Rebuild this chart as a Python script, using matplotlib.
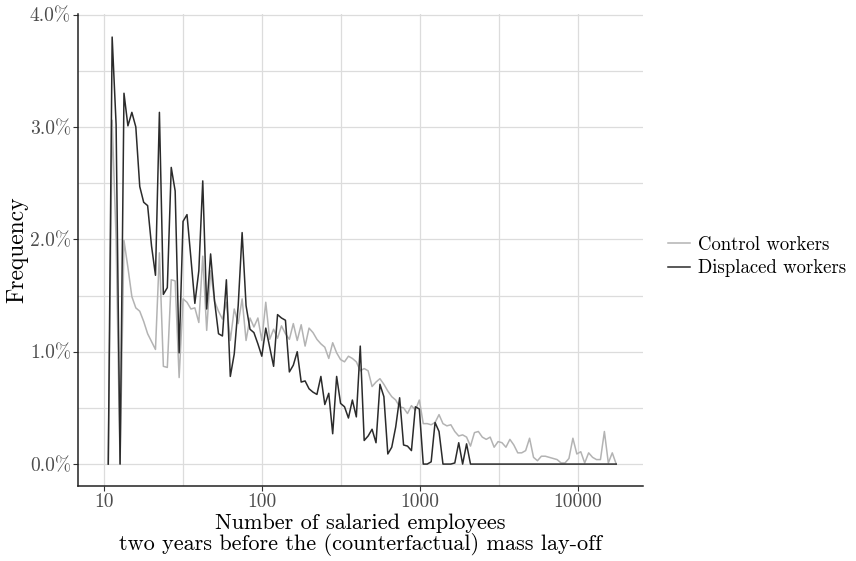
import matplotlib
matplotlib.use('Agg')
import matplotlib.pyplot as plt
from matplotlib.ticker import FixedLocator, FuncFormatter, NullFormatter

plt.rcParams['font.family'] = 'cmr10'
plt.rcParams['axes.formatter.use_mathtext'] = True

# firm size bins (number of salaried employees, log-spaced bin centres)
firm_size = [
    10.65, 11.27, 11.94, 12.65, 13.39, 14.18, 15.02, 15.91, 16.85, 17.84,
    18.90, 20.01, 21.19, 22.44, 23.77, 25.18, 26.66, 28.23, 29.91, 31.67,
    33.54, 35.52, 37.61, 39.85, 42.20, 44.69, 47.32, 50.12, 53.09, 56.22,
    59.54, 63.05, 66.77, 70.73, 74.90, 79.32, 84.00, 88.95, 94.24, 99.79,
    105.7, 111.9, 118.5, 125.5, 132.9, 140.8, 149.1, 157.9, 167.2, 177.1,
    187.5, 198.6, 210.4, 222.8, 236.0, 249.9, 264.7, 280.3, 296.9, 314.4,
    333.0, 352.6, 373.4, 395.6, 418.9, 443.6, 469.8, 497.5, 527.0, 558.1,
    591.0, 625.9, 662.8, 702.1, 743.5, 787.4, 833.8, 883.1, 935.4, 990.6,
    1049, 1111, 1177, 1246, 1320, 1398, 1480, 1568, 1661, 1759,
    1862, 1972, 2088, 2212, 2342, 2480, 2627, 2782, 2947, 3121,
    3305, 3500, 3707, 3926, 4158, 4404, 4664, 4939, 5231, 5540,
    5867, 6213, 6579, 6969, 7380, 7816, 8277, 8766, 9285, 9833,
    10414, 11028, 11679, 12370, 13100, 13873, 14692, 15559, 16482, 17455,
]

# share of workers (%)
control = [
    0.0, 3.06, 2.00, 0.0, 1.99, 1.75, 1.49, 1.39, 1.36, 1.27,
    1.16, 1.09, 1.02, 1.88, 0.87, 0.86, 1.64, 1.63, 0.77, 1.47,
    1.44, 1.38, 1.39, 1.26, 1.85, 1.19, 1.72, 1.45, 1.36, 1.29,
    1.44, 1.10, 1.38, 1.25, 1.47, 1.10, 1.30, 1.22, 1.30, 1.10,
    1.44, 1.11, 1.20, 1.12, 1.23, 1.16, 1.11, 1.25, 1.10, 1.24,
    1.05, 1.21, 1.17, 1.11, 1.07, 1.04, 0.94, 1.08, 0.99, 0.93,
    0.91, 0.96, 0.94, 0.91, 0.83, 0.85, 0.83, 0.69, 0.73, 0.76,
    0.71, 0.65, 0.60, 0.57, 0.51, 0.50, 0.45, 0.52, 0.48, 0.57,
    0.36, 0.36, 0.35, 0.37, 0.44, 0.36, 0.34, 0.35, 0.29, 0.25,
    0.26, 0.24, 0.16, 0.28, 0.29, 0.24, 0.22, 0.24, 0.15, 0.20,
    0.19, 0.15, 0.22, 0.17, 0.10, 0.10, 0.12, 0.23, 0.06, 0.03,
    0.07, 0.07, 0.06, 0.05, 0.04, 0.01, 0.01, 0.05, 0.23, 0.09,
    0.11, 0.01, 0.10, 0.06, 0.04, 0.04, 0.29, 0.01, 0.10, 0.0,
]

displaced = [
    0.0, 3.80, 3.02, 0.0, 3.30, 3.01, 3.13, 3.00, 2.47, 2.33,
    2.30, 1.94, 1.68, 3.13, 1.51, 1.57, 2.64, 2.43, 0.99, 2.16,
    2.22, 1.83, 1.43, 1.72, 2.52, 1.38, 1.87, 1.45, 1.16, 1.14,
    1.64, 0.78, 0.98, 1.41, 2.06, 1.41, 1.20, 1.17, 1.07, 0.96,
    1.21, 1.04, 0.87, 1.33, 1.30, 1.28, 0.82, 0.88, 1.00, 0.73,
    0.74, 0.67, 0.64, 0.62, 0.78, 0.53, 0.63, 0.27, 0.78, 0.54,
    0.51, 0.41, 0.57, 0.42, 1.05, 0.21, 0.25, 0.31, 0.19, 0.71,
    0.60, 0.09, 0.15, 0.33, 0.59, 0.17, 0.16, 0.12, 0.51, 0.49,
    0.0, 0.0, 0.02, 0.37, 0.29, 0.0, 0.0, 0.0, 0.01, 0.19,
    0.0, 0.18, 0.0, 0.0, 0.0, 0.0, 0.0, 0.0, 0.0, 0.0,
    0.0, 0.0, 0.0, 0.0, 0.0, 0.0, 0.0, 0.0, 0.0, 0.0,
    0.0, 0.0, 0.0, 0.0, 0.0, 0.0, 0.0, 0.0, 0.0, 0.0,
    0.0, 0.0, 0.0, 0.0, 0.0, 0.0, 0.0, 0.0, 0.0, 0.0,
]

x_ticks = [10, 100, 1000, 10000]
x_minor = [31.62, 316.2, 3162]
y_ticks = [0, 1, 2, 3, 4]
y_minor = [0.5, 1.5, 2.5, 3.5]

fig = plt.figure(figsize=(8.56, 5.61), dpi=100)
ax = fig.add_axes([0.0911, 0.1337, 0.6601, 0.8413])

ax.plot(firm_size, control, color='#b3b3b3', lw=1.1, label='Control workers')
ax.plot(firm_size, displaced, color='#2b2b2b', lw=1.1, label='Displaced workers')

ax.set_xscale('log')
ax.set_xlim(6.85, 25800)
ax.set_ylim(-0.195, 4.005)

ax.xaxis.set_major_locator(FixedLocator(x_ticks))
ax.xaxis.set_minor_locator(FixedLocator(x_minor))
ax.xaxis.set_major_formatter(FuncFormatter(lambda v, p: '%d' % v))
ax.xaxis.set_minor_formatter(NullFormatter())
ax.yaxis.set_major_locator(FixedLocator(y_ticks))
ax.yaxis.set_minor_locator(FixedLocator(y_minor))
ax.yaxis.set_major_formatter(FuncFormatter(lambda v, p: '%.1f%%' % v))

ax.grid(which='both', color='#dcdcdc', lw=0.9)
ax.set_axisbelow(True)
for s in ['top', 'right']:
    ax.spines[s].set_visible(False)
for s in ['left', 'bottom']:
    ax.spines[s].set_color('#222222')
    ax.spines[s].set_linewidth(1.1)
ax.tick_params(which='major', length=3.5, width=0.8, color='#333333',
               labelsize=14, labelcolor='#4d4d4d', pad=1.5)
ax.tick_params(which='minor', length=0)

ax.set_ylabel('Frequency', fontsize=17)
ax.yaxis.set_label_coords(-0.088, 0.5)
ax.set_xlabel('Number of salaried employees\ntwo years before the (counterfactual) mass lay-off',
              fontsize=16, linespacing=1.0)
ax.xaxis.set_label_coords(0.5, -0.058)

fig.legend(loc='center left', bbox_to_anchor=(0.780, 0.543), frameon=False,
           fontsize=13.5, handlelength=1.2, handletextpad=0.43, labelspacing=0.3,
           borderpad=0, borderaxespad=0)

fig.savefig('out.png', dpi=100)
